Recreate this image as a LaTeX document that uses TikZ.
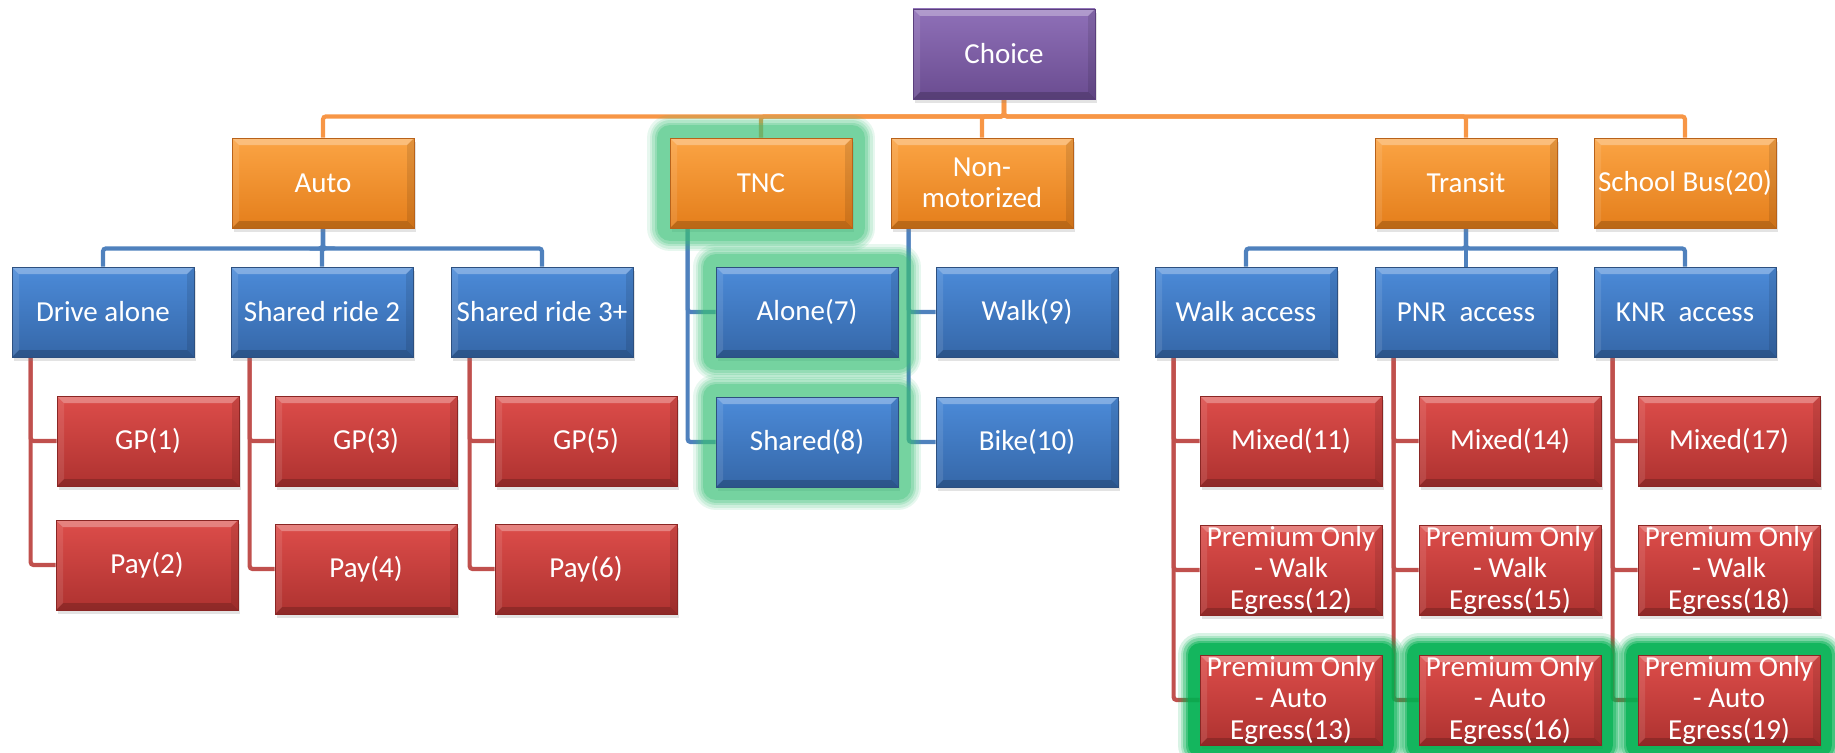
\documentclass[tikz,border=0pt]{standalone}
\usepackage{fontspec}
\setmainfont{Carlito}
\usetikzlibrary{calc, shadows, backgrounds}

\begin{document}
\begin{tikzpicture}[x=1pt, y=-1pt,
    bevel/.style={path picture={
        \fill[white, opacity=0.3] (path picture bounding box.north west) -- (path picture bounding box.north east)
            -- ([xshift=-7pt,yshift=-7pt]path picture bounding box.north east) -- ([xshift=7pt,yshift=-7pt]path picture bounding box.north west) -- cycle;
        \fill[black, opacity=0.18] (path picture bounding box.south west) -- (path picture bounding box.south east)
            -- ([xshift=-7pt,yshift=7pt]path picture bounding box.south east) -- ([xshift=7pt,yshift=7pt]path picture bounding box.south west) -- cycle;
        \fill[black, opacity=0.1] (path picture bounding box.north east) -- (path picture bounding box.south east)
            -- ([xshift=-7pt,yshift=7pt]path picture bounding box.south east) -- ([xshift=-7pt,yshift=-7pt]path picture bounding box.north east) -- cycle;
        \fill[white, opacity=0.1] (path picture bounding box.north west) -- (path picture bounding box.south west)
            -- ([xshift=7pt,yshift=7pt]path picture bounding box.south west) -- ([xshift=7pt,yshift=-7pt]path picture bounding box.north west) -- cycle;
    }},
    box/.style={rectangle, minimum width=182pt, minimum height=90pt, inner sep=0pt,
        text=white, align=center, font=\fontsize{29}{31.5}\selectfont, line width=0.8pt,
        drop shadow={shadow xshift=2pt, shadow yshift=-4pt, opacity=0.22}, bevel},
    purplebox/.style={box, draw=purpleEdge, top color=purpleTop, bottom color=purpleBottom},
    orangebox/.style={box, draw=orangeEdge, top color=orangeTop, bottom color=orangeBottom},
    bluebox/.style={box, draw=blueEdge, top color=blueTop, bottom color=blueBottom},
    redbox/.style={box, draw=redEdge, top color=redTop, bottom color=redBottom},
    glowsoft/.style={
        preaction={draw=glowLight, line width=46pt, line join=round, opacity=0.12},
        preaction={draw=glowLight, line width=41pt, line join=round, opacity=0.15},
        preaction={draw=glowLight, line width=36pt, line join=round, opacity=0.2},
        preaction={draw=glowLight, line width=31pt, line join=round, opacity=0.25},
        preaction={draw=glowLight, line width=26pt, line join=round, opacity=0.35}},
    glowhard/.style={
        preaction={draw=glowDark, line width=44pt, line join=round, opacity=0.15},
        preaction={draw=glowDark, line width=39pt, line join=round, opacity=0.2},
        preaction={draw=glowDark, line width=34pt, line join=round, opacity=0.3},
        preaction={draw=glowDark, line width=29pt, line join=round, opacity=0.45},
        preaction={draw=glowDark, line width=24pt, line join=round, opacity=0.7}},
    orangelink/.style={draw=orangeLine, line width=4.2pt, rounded corners=3pt},
    bluelink/.style={draw=blueLine, line width=4.2pt, rounded corners=3pt},
    redlink/.style={draw=redLine, line width=4.2pt, rounded corners=3pt},
]
    % Colours
    \definecolor{purpleTop}{HTML}{8F70B8}
    \definecolor{purpleBottom}{HTML}{6A4C90}
    \definecolor{purpleEdge}{HTML}{5A3F7C}
    \definecolor{orangeTop}{HTML}{FBA444}
    \definecolor{orangeBottom}{HTML}{E47E1B}
    \definecolor{orangeEdge}{HTML}{B8621A}
    \definecolor{blueTop}{HTML}{4C8BD9}
    \definecolor{blueBottom}{HTML}{3567A8}
    \definecolor{blueEdge}{HTML}{2D5080}
    \definecolor{redTop}{HTML}{DD4D4A}
    \definecolor{redBottom}{HTML}{AE3230}
    \definecolor{redEdge}{HTML}{8A2624}
    \definecolor{orangeLine}{HTML}{F79646}
    \definecolor{blueLine}{HTML}{4F81BD}
    \definecolor{redLine}{HTML}{C0504D}
    \definecolor{glowLight}{HTML}{3CC078}
    \definecolor{glowDark}{HTML}{00B050}

    \useasboundingbox (0,0) rectangle (1835,752);

    % Root
    \node[purplebox] (choice) at (1004,54) {Choice};

    % Main modes
    \node[orangebox] (auto) at (323,183) {Auto};
    \node[orangebox, glowsoft] (tnc) at (761,183) {TNC};
    \node[orangebox] (nonmot) at (982,183) {Non-\\motorized};
    \node[orangebox] (transit) at (1466,183) {Transit};
    \node[orangebox] (bus) at (1685,183) {School Bus(20)};

    % Sub modes
    \node[bluebox] (drive) at (103,312) {Drive alone};
    \node[bluebox] (sr2) at (322,312) {Shared ride 2};
    \node[bluebox] (sr3) at (542,312) {Shared ride 3+};
    \node[bluebox, glowsoft] (alone) at (807,312) {Alone(7)};
    \node[bluebox, glowsoft] (shared) at (807,442) {Shared(8)};
    \node[bluebox] (walk) at (1027,312) {Walk(9)};
    \node[bluebox] (bike) at (1027,442) {Bike(10)};
    \node[bluebox] (wacc) at (1246,312) {Walk access};
    \node[bluebox] (pnr) at (1466,312) {PNR\ \ access};
    \node[bluebox] (knr) at (1685,312) {KNR\ \ access};

    % Auto alternatives
    \node[redbox] (gp1) at (148,441) {GP(1)};
    \node[redbox] (pay2) at (147,565) {Pay(2)};
    \node[redbox] (gp3) at (366,441) {GP(3)};
    \node[redbox] (pay4) at (366,569) {Pay(4)};
    \node[redbox] (gp5) at (586,441) {GP(5)};
    \node[redbox] (pay6) at (586,569) {Pay(6)};

    % Transit alternatives
    \foreach \acc/\x/\a/\b/\c in {wacc/1291/11/12/13, pnr/1510/14/15/16, knr/1729/17/18/19} {
        \node[redbox] (mix\a) at (\x,441) {Mixed(\a)};
        \node[redbox] (prem\b) at (\x,570) {Premium Only\\- Walk\\Egress(\b)};
        \node[redbox, glowhard] (prem\c) at (\x,700) {Premium Only\\- Auto\\Egress(\c)};
    }

    % Draw connectors behind the boxes
    \begin{scope}[on background layer]
        \foreach \c in {auto, tnc, nonmot, transit, bus}
            \draw[orangelink] (choice.south) -- ++(0,17) -| (\c.north);
        \foreach \p/\c in {auto/drive, auto/sr2, auto/sr3, transit/wacc, transit/pnr, transit/knr}
            \draw[bluelink] (\p.south) -- ++(0,20) -| (\c.north);
        \foreach \p/\c in {tnc/alone, tnc/shared, nonmot/walk, nonmot/bike}
            \draw[bluelink] ($(\p.south west)+(18,0)$) |- (\c.west);
        \foreach \p/\c in {drive/gp1, drive/pay2, sr2/gp3, sr2/pay4, sr3/gp5, sr3/pay6,
                           wacc/mix11, wacc/prem12, wacc/prem13, pnr/mix14, pnr/prem15, pnr/prem16,
                           knr/mix17, knr/prem18, knr/prem19}
            \draw[redlink] ($(\p.south west)+(19,0)$) |- (\c.west);
    \end{scope}

\end{tikzpicture}
\end{document}
